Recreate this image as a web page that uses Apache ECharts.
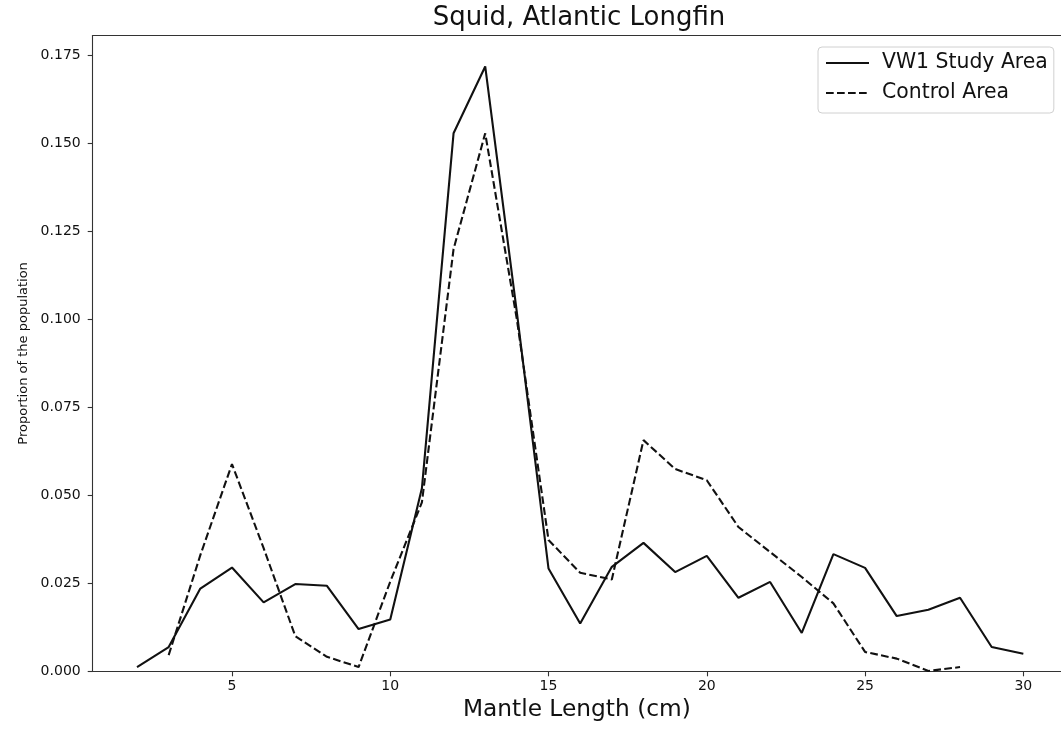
<!DOCTYPE html>
<html>
<head>
<meta charset="utf-8">
<title>Squid, Atlantic Longfin</title>
<script src="https://cdn.jsdelivr.net/npm/echarts@6/dist/echarts.min.js"></script>
<style>
  html, body { margin: 0; padding: 0; background: #fff; }
  #chart { width: 1061px; height: 729px; }
</style>
</head>
<body>
<div id="chart"></div>
<script>
// Mantle length classes (cm) for each survey area
const studyLengths = [2, 3, 4, 5, 6, 7, 8, 9, 10, 11, 12, 13, 14, 15, 16, 17, 18, 19, 20, 21, 22, 23, 24, 25, 26, 27, 28, 29, 30];
const studyArea = [0.0012, 0.0069, 0.0235, 0.0295, 0.0196, 0.0248, 0.0243, 0.0120, 0.0147, 0.0520,
                   0.1529, 0.1719, 0.1020, 0.0292, 0.0136, 0.0297, 0.0365, 0.0282, 0.0328, 0.0209,
                   0.0254, 0.0109, 0.0333, 0.0294, 0.0157, 0.0175, 0.0209, 0.0069, 0.0050];

const controlLengths = [3, 4, 5, 6, 7, 8, 9, 10, 11, 12, 13, 14, 15, 16, 17, 18, 19, 20, 21, 22, 23, 24, 25, 26, 27, 28];
const controlArea = [0.0046, 0.0330, 0.0589, 0.0350, 0.0100, 0.0041, 0.0012, 0.0255, 0.0480, 0.1200,
                     0.1529, 0.1000, 0.0373, 0.0280, 0.0261, 0.0657, 0.0575, 0.0543, 0.0410, 0.0339,
                     0.0268, 0.0193, 0.0055, 0.0036, 0.0001, 0.0012];

const xTicks = [5, 10, 15, 20, 25, 30];
const yTicks = [0, 0.025, 0.05, 0.075, 0.1, 0.125, 0.15, 0.175];

const FONT = 'DejaVu Sans';
const INK = '#111';
const SPINE = '#333';

// x range runs past the right edge of the canvas, so the right spine is not drawn
const X_MIN = 0.6;
const X_MAX = 31.19;
const Y_MAX = 0.1807;

const pair = (xs, ys) => xs.map((x, i) => [x, ys[i]]);

const chart = echarts.init(document.getElementById('chart'), null, { renderer: 'canvas' });

chart.setOption({
  animation: false,
  backgroundColor: '#fff',
  graphic: [{
    type: 'text',
    x: 579,
    y: 18,
    style: {
      text: 'Squid, Atlantic Longfin',
      align: 'center',
      verticalAlign: 'middle',
      font: '26px "DejaVu Sans"',
      fill: INK
    }
  }],
  grid: {
    left: 92.7,
    top: 35.5,
    right: 0,
    bottom: 57.7,
    show: false,
    containLabel: false
  },
  legend: {
    orient: 'vertical',
    left: 818,
    top: 47,
    padding: [6, 6, 10, 7],
    itemGap: 10,
    itemWidth: 43,
    itemHeight: 20,
    backgroundColor: 'rgba(255,255,255,0.8)',
    borderColor: '#d0d0d0',
    borderWidth: 1,
    borderRadius: 4,
    itemStyle: { opacity: 0 },
    textStyle: {
      fontFamily: FONT,
      fontSize: 20.4,
      color: INK,
      lineHeight: 20,
      padding: [0, 0, 0, 8]
    },
    data: ['VW1 Study Area', 'Control Area']
  },
  xAxis: [
    {
      type: 'value',
      min: X_MIN,
      max: X_MAX,
      name: 'Mantle Length (cm)',
      nameLocation: 'middle',
      nameGap: 6,
      nameTextStyle: { fontFamily: FONT, fontSize: 23.3, color: INK, verticalAlign: 'top' },
      axisLine: { show: true, onZero: false, lineStyle: { color: SPINE, width: 1.1 } },
      axisTick: { show: true, length: 5, lineStyle: { color: SPINE, width: 1.1 }, customValues: xTicks },
      axisLabel: { fontFamily: FONT, fontSize: 14, color: INK, margin: 8, customValues: xTicks },
      splitLine: { show: false }
    },
    {
      // top spine
      type: 'value',
      position: 'top',
      min: X_MIN,
      max: X_MAX,
      axisLine: { show: true, onZero: false, lineStyle: { color: SPINE, width: 1.1 } },
      axisTick: { show: false },
      axisLabel: { show: false },
      splitLine: { show: false }
    }
  ],
  yAxis: {
    type: 'value',
    min: 0,
    max: Y_MAX,
    name: 'Proportion of the population',
    nameLocation: 'middle',
    nameGap: 63,
    nameTextStyle: { fontFamily: FONT, fontSize: 13, color: INK },
    axisLine: { show: true, onZero: false, lineStyle: { color: SPINE, width: 1.1 } },
    axisTick: { show: true, length: 5, lineStyle: { color: SPINE, width: 1.1 }, customValues: yTicks },
    axisLabel: {
      fontFamily: FONT, fontSize: 14, color: INK, margin: 12,
      customValues: yTicks,
      formatter: v => v.toFixed(3)
    },
    splitLine: { show: false }
  },
  series: [
    {
      name: 'VW1 Study Area',
      type: 'line',
      xAxisIndex: 0,
      data: pair(studyLengths, studyArea),
      symbol: 'none',
      lineStyle: { color: INK, width: 2.1, type: 'solid' },
      itemStyle: { color: INK }
    },
    {
      name: 'Control Area',
      type: 'line',
      xAxisIndex: 0,
      data: pair(controlLengths, controlArea),
      symbol: 'none',
      lineStyle: { color: INK, width: 2.1, type: [7.7, 3.3] },
      itemStyle: { color: INK }
    }
  ]
});
</script>
</body>
</html>
